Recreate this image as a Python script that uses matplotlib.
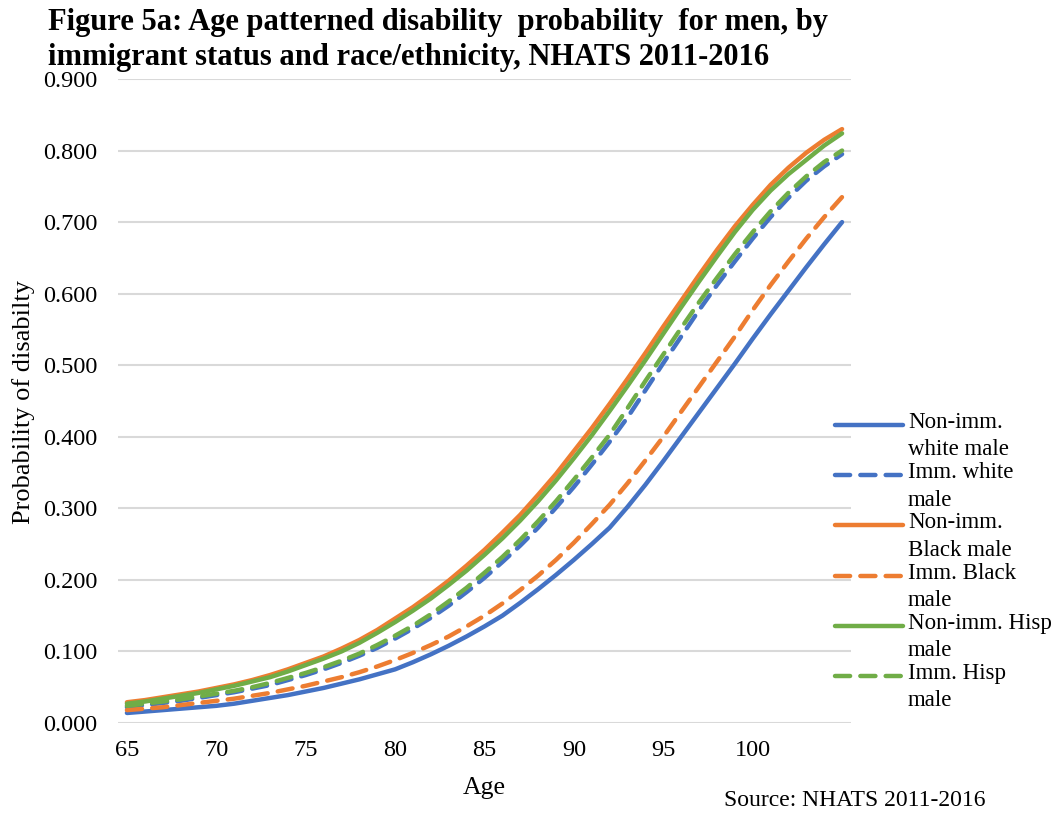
import matplotlib
matplotlib.use("Agg")
import matplotlib.pyplot as plt
from matplotlib.lines import Line2D

plt.rcParams['font.family'] = ['Liberation Serif', 'DejaVu Serif']

ages = list(range(65, 106))

non_imm_white = [0.014, 0.016, 0.018, 0.020, 0.022, 0.024, 0.027, 0.031, 0.035, 0.039,
                 0.044, 0.049, 0.055, 0.061, 0.068, 0.075, 0.085, 0.096, 0.108, 0.121,
                 0.135, 0.150, 0.168, 0.187, 0.207, 0.228, 0.250, 0.273, 0.302, 0.333,
                 0.366, 0.400, 0.434, 0.468, 0.502, 0.537, 0.571, 0.604, 0.637, 0.669,
                 0.700]
imm_white = [0.022, 0.025, 0.028, 0.031, 0.035, 0.039, 0.043, 0.048, 0.053, 0.060,
             0.067, 0.075, 0.084, 0.094, 0.105, 0.118, 0.132, 0.147, 0.164, 0.183,
             0.203, 0.225, 0.248, 0.273, 0.301, 0.330, 0.361, 0.393, 0.427, 0.465,
             0.503, 0.540, 0.577, 0.612, 0.645, 0.677, 0.707, 0.734, 0.758, 0.778,
             0.795]
non_imm_black = [0.029, 0.032, 0.036, 0.040, 0.044, 0.049, 0.054, 0.060, 0.067, 0.075,
                 0.084, 0.093, 0.104, 0.116, 0.130, 0.146, 0.162, 0.180, 0.199, 0.220,
                 0.242, 0.266, 0.291, 0.319, 0.348, 0.380, 0.412, 0.446, 0.481, 0.517,
                 0.554, 0.590, 0.626, 0.661, 0.694, 0.724, 0.752, 0.776, 0.797, 0.815,
                 0.830]
imm_black = [0.018, 0.020, 0.022, 0.025, 0.028, 0.031, 0.034, 0.038, 0.042, 0.047,
             0.052, 0.058, 0.064, 0.071, 0.079, 0.088, 0.098, 0.109, 0.121, 0.135,
             0.150, 0.167, 0.186, 0.206, 0.228, 0.252, 0.278, 0.305, 0.335, 0.367,
             0.400, 0.435, 0.470, 0.505, 0.540, 0.577, 0.612, 0.645, 0.677, 0.707,
             0.735]
non_imm_hisp = [0.027, 0.030, 0.034, 0.038, 0.042, 0.047, 0.052, 0.058, 0.064, 0.072,
                0.081, 0.090, 0.100, 0.112, 0.126, 0.141, 0.157, 0.174, 0.193, 0.213,
                0.235, 0.258, 0.283, 0.310, 0.339, 0.370, 0.402, 0.436, 0.471, 0.507,
                0.544, 0.581, 0.617, 0.652, 0.686, 0.717, 0.744, 0.767, 0.787, 0.807,
                0.824]
imm_hisp = [0.024, 0.027, 0.030, 0.033, 0.037, 0.041, 0.045, 0.050, 0.056, 0.063,
            0.070, 0.078, 0.087, 0.097, 0.109, 0.122, 0.136, 0.152, 0.170, 0.189,
            0.210, 0.232, 0.256, 0.282, 0.310, 0.340, 0.371, 0.403, 0.440, 0.478,
            0.515, 0.552, 0.588, 0.622, 0.655, 0.686, 0.715, 0.741, 0.764, 0.784,
            0.800]

labels = ["Non-imm.\nwhite male", "Imm. white\nmale", "Non-imm.\nBlack male",
          "Imm. Black\nmale", "Non-imm. Hisp\nmale", "Imm. Hisp\nmale"]
series = [non_imm_white, imm_white, non_imm_black, imm_black, non_imm_hisp, imm_hisp]
colors = ["#4472C4", "#4472C4", "#ED7D31", "#ED7D31", "#70AD47", "#70AD47"]
dashed = [False, True, False, True, False, True]
xticks = [65, 70, 75, 80, 85, 90, 95, 100]
yticks = [0.0, 0.1, 0.2, 0.3, 0.4, 0.5, 0.6, 0.7, 0.8, 0.9]

W, H = 1063, 814
fig = plt.figure(figsize=(W / 100, H / 100), dpi=100)
ax = fig.add_axes([118 / W, 1 - 723 / H, (851 - 118) / W, (723 - 79) / H])

lw = 3.2
dash = (0, (3.4, 2.3))
handles = []
for ys, c, d, lab in zip(series, colors, dashed, labels):
    if d:
        ln, = ax.plot(ages, ys, color=c, lw=lw, linestyle=dash,
                      dash_capstyle='round', solid_capstyle='round', label=lab)
    else:
        ln, = ax.plot(ages, ys, color=c, lw=lw, solid_capstyle='round', label=lab)
    handles.append(ln)
ax.set_xlim(ages[0] - 0.5, ages[-1] + 0.5)
ax.set_ylim(0, 0.9)
ax.set_yticks(yticks)
ax.set_yticklabels([f"{v:.3f}" for v in yticks], fontsize=17.5)
ax.set_xticks(xticks)
ax.set_xticklabels([str(v) for v in xticks], fontsize=17.5)
ax.tick_params(axis='x', length=0, pad=12)
ax.tick_params(axis='y', length=0, pad=15)
ax.grid(axis='y', color='#D9D9D9', lw=1.5)
ax.set_axisbelow(True)
for s in ax.spines.values():
    s.set_visible(False)

ax.set_xlabel("Age", fontsize=18.5, labelpad=12)
fig.text(24 / W, 1 - 402 / H, "Probability of disabilty", rotation=90,
         ha='center', va='center', fontsize=19)

fig.text(48 / W, 1 - 40 / H,
         "Figure 5a: Age patterned disability  probability  for men, by\nimmigrant status and race/ethnicity, NHATS 2011-2016",
         ha='left', va='center', fontsize=22, fontweight='bold', linespacing=1.28)

fig.text(986 / W, 1 - 801 / H, "Source: NHATS 2011-2016", ha='right', va='center', fontsize=17)

# legend (manual, handle aligned to first text line)
y0 = 425
step = 50.2
for i, (h, lab) in enumerate(zip(handles, labels)):
    yy = 1 - (y0 + i * step) / H
    l = Line2D([835 / W, 903 / W], [yy, yy], transform=fig.transFigure,
               color=h.get_color(), lw=lw,
               dash_capstyle='round', solid_capstyle='round')
    if dashed[i]:
        l.set_linestyle(dash)
    fig.add_artist(l)
    fig.text(908 / W, yy + 13 / H, lab, ha='left', va='top', fontsize=16.5,
             linespacing=1.4)

fig.savefig("out.png", dpi=100)
